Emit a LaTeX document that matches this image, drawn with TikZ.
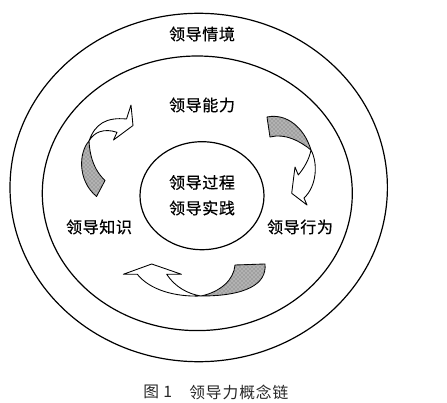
\documentclass[tikz,border=0pt]{standalone}
\usepackage{fontspec}
\setmainfont{Noto Sans CJK SC}[LetterSpace=4,FakeBold=0.6]
\newfontfamily\captionfnt{Noto Sans CJK SC}[LetterSpace=6]
\usetikzlibrary{patterns}
\begin{document}
\begin{tikzpicture}[x=0.75pt,y=-0.75pt,
  ring/.style={line width=0.9pt},
  arrowline/.style={line width=0.65pt, line join=round},
  shade/.style={arrowline, fill=black!30, postaction={pattern=crosshatch dots, pattern color=black!60}},
  blank/.style={arrowline, fill=white},
  lbl/.style={inner sep=0pt, font=\fontsize{12pt}{14pt}\selectfont},
  captxt/.style={inner sep=0pt, anchor=west, text=black!85, font=\captionfnt\fontsize{11.8pt}{14pt}\selectfont}]
\useasboundingbox (0,0) rectangle (447,403);
% rings
\draw[ring] (198.7,187.5) ellipse [x radius=188.7, y radius=174.2];
\draw[ring] (197.3,193.3) ellipse [x radius=155, y radius=137.3];
\draw[ring] (202,195.7) ellipse [x radius=62, y radius=54];
% labels
\node[lbl] (qj) at (202,34) {领导情境};
\node[lbl] (nl) at (202,105) {领导能力};
\node[lbl] (gc) at (202,182.5) {领导过程};
\node[lbl] (sj) at (202,208) {领导实践};
\node[lbl] (zs) at (99,227) {领导知识};
\node[lbl] (xw) at (300,227) {领导行为};
% top-left arrow
\draw[shade] (89,141) .. controls (79,152) and (77,180) .. (96.5,196.5) -- (105,180.5) .. controls (96,172) and (90,160) .. (89,141) -- cycle;
\draw[blank] (89,141) .. controls (95,124) and (106,117) .. (126.5,119) -- (131,105) -- (133,125.5) -- (113.5,140) -- (117,132.3) .. controls (104,128) and (94,132) .. (89,141) -- cycle;
% top-right arrow
\draw[shade] (267,117) .. controls (286,113) and (304,127) .. (311,150) .. controls (300,141) and (285,133) .. (270,137) -- cycle;
\draw[blank] (311,150) .. controls (318,163) and (317,186) .. (304,198) -- (307,205) -- (291.7,193.3) -- (295,167) -- (298.3,175) .. controls (304,168) and (309,160) .. (311,150) -- cycle;
% bottom arrow
\draw[shade] (235,265) -- (265,264) .. controls (267,284) and (246,296) .. (201,296) .. controls (220,292) and (234,280) .. (235,265) -- cycle;
\draw[blank] (201,296) .. controls (175,297) and (150,290) .. (137.3,274.3) -- (123.3,274.3) -- (151.7,264) -- (181.5,274.3) -- (166.7,274.3) .. controls (175,287) and (188,294) .. (201,296) -- cycle;
% caption
\node[captxt] (fig) at (143,392) {图 1};
\node[captxt] (title) at (189,392) {领导力概念链};
\end{tikzpicture}
\end{document}
